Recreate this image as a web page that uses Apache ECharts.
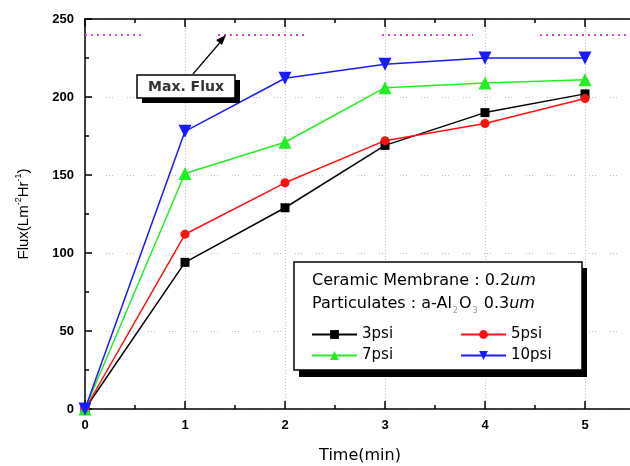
<!DOCTYPE html>
<html>
<head>
<meta charset="utf-8">
<script src="https://cdn.jsdelivr.net/npm/echarts@6/dist/echarts.min.js"></script>
<style>
  html, body { margin: 0; padding: 0; background: #fff; }
  #chart { width: 630px; height: 466px; }
</style>
</head>
<body>
<div id="chart"></div>
<script>
// time axis (min)
const times = [0, 1, 2, 3, 4, 5];
// flux values
const psi3 = [0, 94, 129, 169, 190, 202];
const psi5 = [0, 112, 145, 172, 183, 199];
const psi7 = [0, 151, 171, 206, 209, 211];
const psi10 = [0, 178, 212, 221, 225, 225];
const seriesNames = ["3psi", "5psi", "7psi", "10psi"];
const yTicks = [0, 50, 100, 150, 200, 250];
// max flux level and the visible pieces of its dotted line
const maxFlux = 240;
const maxFluxPieces = [[0, 0.58], [1.33, 2.23], [2.97, 3.88], [4.55, 5.5]];

const chart = echarts.init(document.getElementById("chart"));

const tickFont = {
  color: "#000",
  fontFamily: "Liberation Sans",
  fontWeight: "bold",
  fontSize: 13
};
const boxFont = "DejaVu Sans";

function pairs(values) {
  return times.map((t, i) => [t, values[i]]);
}

const styles = [
  { color: "#000000", symbol: "rect", size: 9 },
  { color: "#ff1010", symbol: "circle", size: 9 },
  { color: "#22ee22", symbol: "triangle", size: 13 },
  { color: "#1a1aff", symbol: "triangle", size: 13, rotate: 180 }
];
const dataSets = [psi3, psi5, psi7, psi10];

const series = dataSets.map((d, i) => ({
  name: seriesNames[i],
  type: "line",
  data: pairs(d),
  symbol: styles[i].symbol,
  symbolSize: styles[i].size,
  symbolRotate: styles[i].rotate || 0,
  showAllSymbol: true,
  clip: false,
  animation: false,
  lineStyle: { color: styles[i].color, width: 1.5 },
  itemStyle: { color: styles[i].color }
}));

// magenta dotted max flux line
series.push({
  type: "line",
  data: [],
  silent: true,
  animation: false,
  markLine: {
    silent: true,
    symbol: "none",
    label: { show: false },
    lineStyle: { color: "#e040e0", type: [2, 4], width: 2 },
    data: maxFluxPieces.map(p => [{ coord: [p[0], maxFlux] }, { coord: [p[1], maxFlux] }])
  }
});

// legend: 2 columns x 2 rows
const legendPos = [
  { left: 311, top: 327 },
  { left: 460, top: 327 },
  { left: 311, top: 348 },
  { left: 460, top: 348 }
];
const legends = seriesNames.map((n, i) => ({
  data: [n],
  left: legendPos[i].left,
  top: legendPos[i].top,
  padding: 0,
  z: 60,
  itemWidth: 45,
  itemHeight: 11,
  itemGap: 0,
  textStyle: { fontSize: 15, color: "#000", fontFamily: boxFont }
}));

chart.setOption({
  backgroundColor: "#fff",
  animation: false,
  grid: { left: 85, top: 19, right: -5, bottom: 57, outerBoundsMode: "none", containLabel: false },
  legend: legends,
  xAxis: [
    {
      type: "value",
      min: 0,
      max: 5.5,
      interval: 1,
      name: "Time(min)",
      nameLocation: "middle",
      nameGap: 39,
      nameTextStyle: { fontSize: 16, color: "#000", fontFamily: boxFont },
      axisLine: { lineStyle: { color: "#000", width: 1.5 } },
      axisTick: { inside: true, length: 8, lineStyle: { color: "#000", width: 1.5 } },
      minorTick: { show: true, splitNumber: 2, length: 4, lineStyle: { color: "#000", width: 1.5 } },
      axisLabel: { ...tickFont, margin: 10, showMaxLabel: false },
      splitLine: { show: true, lineStyle: { color: "#bbb", type: [1, 2], width: 1 } }
    },
    {
      type: "value",
      position: "top",
      min: 0,
      max: 5.5,
      interval: 1,
      axisLine: { lineStyle: { color: "#000", width: 1.5 } },
      axisTick: { inside: true, length: 8, lineStyle: { color: "#000", width: 1.5 } },
      minorTick: { show: true, splitNumber: 2, length: 4, lineStyle: { color: "#000", width: 1.5 } },
      axisLabel: { show: false },
      splitLine: { show: false }
    }
  ],
  yAxis: {
    type: "value",
    min: yTicks[0],
    max: yTicks[yTicks.length - 1],
    interval: 50,
    name: "{n|Flux(Lm}{s|-2}{n|Hr}{s|-1}{n|)}",
    nameLocation: "middle",
    nameGap: 52,
    nameRotate: 90,
    nameTextStyle: {
      rich: {
        n: { fontSize: 15, color: "#000", fontFamily: "Liberation Sans" },
        s: { fontSize: 9, color: "#000", fontFamily: "Liberation Sans", padding: [0, 0, 10, 0] }
      }
    },
    axisLine: { lineStyle: { color: "#000", width: 1.5 } },
    axisTick: { inside: true, length: 7, lineStyle: { color: "#000", width: 1.5 } },
    minorTick: { show: true, splitNumber: 2, length: 4, lineStyle: { color: "#000", width: 1.5 } },
    axisLabel: { ...tickFont, margin: 11 },
    splitLine: { show: true, lineStyle: { color: "#bbb", type: [1, 2, 1, 2, 1, 14], width: 1 } }
  },
  graphic: [
    // Max. Flux annotation
    { type: "rect", shape: { x: 142, y: 80, width: 98, height: 23 }, style: { fill: "#000" }, z: 100 },
    { type: "rect", shape: { x: 137, y: 75, width: 98, height: 23 }, style: { fill: "#fff", stroke: "#000", lineWidth: 1.5 }, z: 101 },
    {
      type: "text", x: 186, y: 87, z: 102,
      style: { text: "Max. Flux", font: "bold 14px 'DejaVu Sans'", fill: "#333", align: "center", verticalAlign: "middle" }
    },
    { type: "line", shape: { x1: 193, y1: 74, x2: 223, y2: 39 }, style: { stroke: "#000", lineWidth: 1.2 }, z: 102 },
    { type: "polygon", shape: { points: [[226, 35], [216, 40], [222, 45]] }, style: { fill: "#000" }, z: 102 },
    // legend box
    { type: "rect", shape: { x: 299, y: 268, width: 288, height: 109 }, style: { fill: "#000" }, z: 50 },
    { type: "rect", shape: { x: 294, y: 262, width: 288, height: 108 }, style: { fill: "#fff", stroke: "#000", lineWidth: 1.5 }, z: 51 },
    {
      type: "text", x: 312, y: 281, z: 52,
      style: {
        text: "{n|Ceramic Membrane : 0.2}{i|um}",
        verticalAlign: "middle",
        rich: {
          n: { fontSize: 16, fontFamily: boxFont, fill: "#000" },
          i: { fontSize: 16, fontFamily: boxFont, fontStyle: "italic", fill: "#000" }
        }
      }
    },
    {
      type: "text", x: 312, y: 304, z: 52,
      style: {
        text: "{n|Particulates : a-Al}{s|2}{n|O}{s|3}{n| 0.3}{i|um}",
        verticalAlign: "middle",
        rich: {
          n: { fontSize: 16, fontFamily: boxFont, fill: "#000" },
          s: { fontSize: 8, fontFamily: boxFont, fill: "#999", padding: [14, 1, 0, 1] },
          i: { fontSize: 16, fontFamily: boxFont, fontStyle: "italic", fill: "#000" }
        }
      }
    }
  ],
  series: series
});
</script>
</body>
</html>
